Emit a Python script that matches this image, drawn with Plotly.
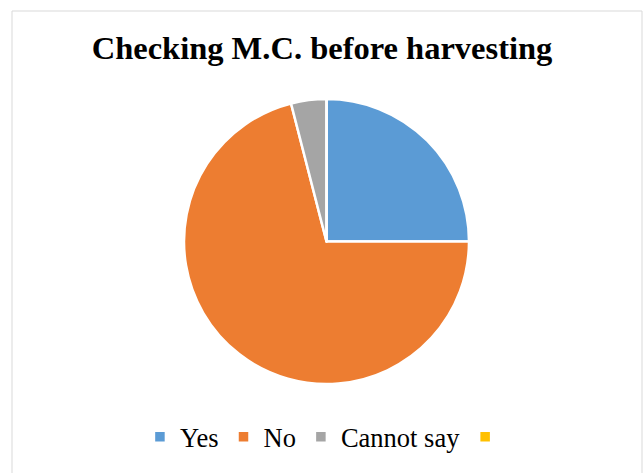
import plotly.graph_objects as go

# Survey responses
categories = ["Yes", "No", "Cannot say", " "]
shares = [25, 71, 4, 0]
colors = ["#5B9BD5", "#ED7D31", "#A5A5A5", "#FFC000"]

W, H = 644, 473
serif = "Liberation Serif, Times New Roman, serif"

fig = go.Figure(
    go.Pie(
        labels=categories,
        values=shares,
        sort=False,
        direction="clockwise",
        rotation=0,
        textinfo="none",
        marker=dict(colors=colors, line=dict(color="white", width=2.5)),
        domain=dict(x=[184 / W, 469 / W], y=[1 - 384 / H, 1 - 99 / H]),
        hoverinfo="label+percent",
    )
)

fig.update_layout(
    width=W,
    height=H,
    margin=dict(l=0, r=0, t=0, b=0),
    paper_bgcolor="white",
    plot_bgcolor="white",
    title=dict(
        text="<b>Checking M.C. before harvesting</b>",
        font=dict(family=serif, size=32.5, color="black"),
        x=0.5,
        xanchor="center",
        xref="paper",
        y=1 - 48 / H,
        yref="paper",
        yanchor="middle",
    ),
    legend=dict(
        orientation="h",
        x=0.51,
        xanchor="center",
        y=1 - 437 / H,
        yanchor="middle",
        font=dict(family=serif, size=26.5, color="black"),
        traceorder="normal",
    ),
    shapes=[
        dict(
            type="rect",
            xref="paper",
            yref="paper",
            x0=12 / W,
            x1=642 / W,
            y0=-0.01,
            y1=1 - 11 / H,
            line=dict(color="#D9D9D9", width=1),
            fillcolor="rgba(0,0,0,0)",
        )
    ],
)

fig.write_html("out.html")
